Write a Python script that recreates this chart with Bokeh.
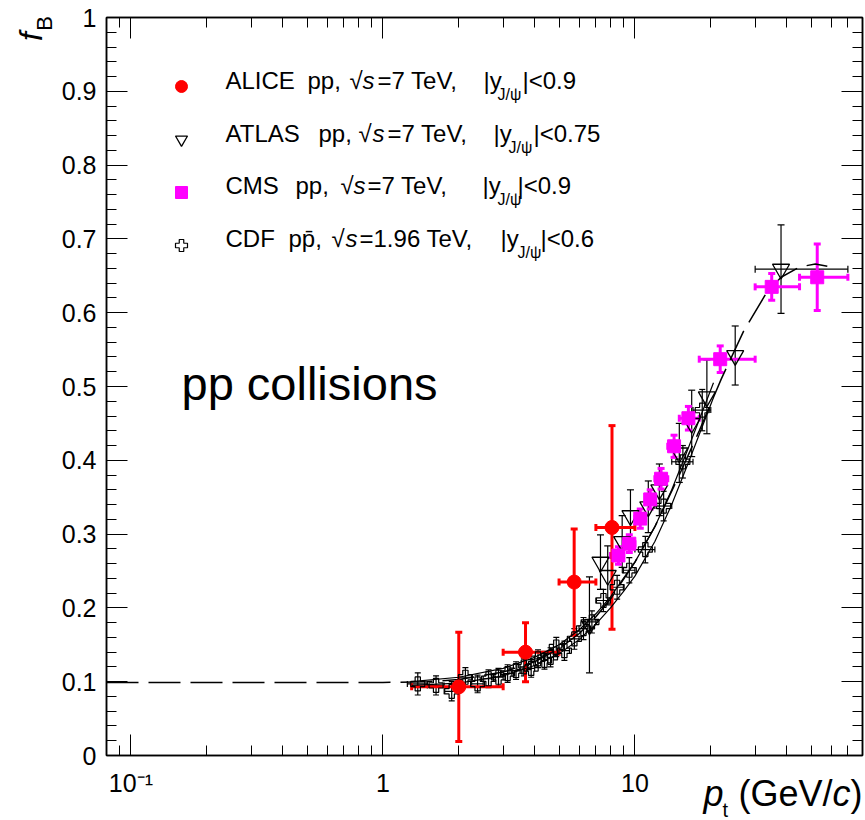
import numpy as np
from bokeh.plotting import figure
from bokeh.models import (ColumnDataSource, Whisker, TeeHead, FixedTicker, LogAxis, LinearAxis,
                          SingleIntervalTicker, CustomJSTickFormatter, Label, Legend, LegendItem, Range1d)
from bokeh.core.properties import value
from bokeh.embed import file_html
from bokeh.resources import INLINE

# ---------------- data ----------------
alice_pt = [2.0, 3.68, 5.74, 8.11]
alice_pt_lo = [1.3, 3.0, 5.0, 7.0]
alice_pt_hi = [3.0, 5.0, 7.0, 10.0]
alice_fb = [0.093, 0.140, 0.235, 0.309]
alice_err = [0.074, 0.040, 0.072, 0.138]

atlas_pt = [6.6, 7.3, 7.8, 8.9, 9.6, 11.3, 12.5, 15.0, 16.8, 19.3, 25.0, 38.0]
atlas_fb = [0.177, 0.262, 0.244, 0.290, 0.325, 0.337, 0.360, 0.410, 0.450, 0.486, 0.542, 0.659]
atlas_err = [0.065, 0.037, 0.040, 0.035, 0.035, 0.035, 0.035, 0.040, 0.045, 0.050, 0.040, 0.060]
atlas_xbar_lo = [30.0]
atlas_xbar_hi = [70.0]
atlas_xbar_fb = [0.659]

cms_pt = [8.6, 9.5, 10.5, 11.5, 12.7, 14.3, 16.3, 21.8, 34.9, 52.9]
cms_pt_lo = [8.0, 9.0, 10.0, 11.0, 12.0, 13.5, 15.0, 18.0, 30.0, 45.0]
cms_pt_hi = [9.0, 10.0, 11.0, 12.0, 13.5, 15.0, 18.0, 30.0, 45.0, 70.0]
cms_fb = [0.271, 0.287, 0.321, 0.347, 0.375, 0.419, 0.457, 0.537, 0.635, 0.648]
cms_err = [0.012, 0.012, 0.013, 0.013, 0.014, 0.015, 0.016, 0.018, 0.018, 0.045]

cdf_pt = [1.375, 1.625, 1.875, 2.125, 2.375, 2.625, 2.875, 3.125, 3.375, 3.625, 3.875,
          4.125, 4.375, 4.625, 4.875, 5.25, 5.75, 6.25, 6.75, 7.5, 8.5, 9.5, 11.0, 13.0, 15.5, 18.5]
cdf_pt_lo = [1.25, 1.5, 1.75, 2.0, 2.25, 2.5, 2.75, 3.0, 3.25, 3.5, 3.75,
             4.0, 4.25, 4.5, 4.75, 5.0, 5.5, 6.0, 6.5, 7.0, 8.0, 9.0, 10.0, 12.0, 14.0, 17.0]
cdf_pt_hi = [1.5, 1.75, 2.0, 2.25, 2.5, 2.75, 3.0, 3.25, 3.5, 3.75, 4.0,
             4.25, 4.5, 4.75, 5.0, 5.5, 6.0, 6.5, 7.0, 8.0, 9.0, 10.0, 12.0, 14.0, 17.0, 20.0]
cdf_fb = [0.097, 0.095, 0.087, 0.106, 0.097, 0.104, 0.106, 0.111, 0.115, 0.120, 0.118,
          0.131, 0.129, 0.133, 0.147, 0.142, 0.158, 0.172, 0.181, 0.210, 0.228, 0.251, 0.279, 0.338, 0.398, 0.468]
cdf_err = [0.015, 0.013, 0.013, 0.013, 0.012, 0.012, 0.012, 0.012, 0.012, 0.012, 0.012,
           0.012, 0.012, 0.013, 0.013, 0.013, 0.014, 0.015, 0.015, 0.015, 0.016, 0.017, 0.018, 0.020, 0.022, 0.028]

# long-dashed fit curve
fit_pt = [0.08, 0.5, 1.0, 1.5, 2.0, 3.0, 4.0, 5.0, 6.0, 7.0, 8.0, 10.0, 12.0, 15.0, 18.0,
          22.0, 27.0, 33.0, 38.0, 45.0, 52.0, 58.0]
fit_fb = [0.099, 0.099, 0.099, 0.100, 0.103, 0.113, 0.127, 0.145, 0.165, 0.188, 0.212, 0.262,
          0.310, 0.380, 0.440, 0.510, 0.575, 0.625, 0.648, 0.662, 0.666, 0.663]
# solid band curves
band_pt = [1.3, 2.0, 3.0, 4.0, 5.0, 6.0, 7.0, 8.0, 9.0, 10.0, 12.0, 14.0, 16.0, 18.0, 20.5]
band_hi = [0.100, 0.106, 0.118, 0.133, 0.150, 0.170, 0.192, 0.215, 0.240, 0.262, 0.310, 0.360, 0.410, 0.455, 0.505]
band_lo = [0.095, 0.098, 0.108, 0.122, 0.138, 0.157, 0.178, 0.200, 0.222, 0.243, 0.290, 0.340, 0.390, 0.435, 0.485]

x_major = [0.1, 1, 10]
x_minor = [0.08, 0.09, 0.2, 0.3, 0.4, 0.5, 0.6, 0.7, 0.8, 0.9,
           2, 3, 4, 5, 6, 7, 8, 9, 20, 30, 40, 50, 60, 70, 80]

legend_rows = [
    [("ALICE", 225, "normal"), ("pp,", 307, "normal"), ("\u221a", 349, "normal"), ("s", 362, "italic"),
     ("=7 TeV,", 377, "normal"), ("|y", 483, "normal"), ("J/\u03c8", 497, "sub"), ("|<0.9", 522, "normal")],
    [("ATLAS", 225, "normal"), ("pp,", 318, "normal"), ("\u221a", 358, "normal"), ("s", 372, "italic"),
     ("=7 TeV,", 387, "normal"), ("|y", 493, "normal"), ("J/\u03c8", 508, "sub"), ("|<0.75", 533, "normal")],
    [("CMS", 225, "normal"), ("pp,", 295, "normal"), ("\u221a", 340, "normal"), ("s", 353, "italic"),
     ("=7 TeV,", 367, "normal"), ("|y", 482, "normal"), ("J/\u03c8", 497, "sub"), ("|<0.9", 517, "normal")],
    [("CDF", 225, "normal"), ("pp\u0304,", 288, "normal"), ("\u221a", 331, "normal"), ("s", 345, "italic"),
     ("=1.96 TeV,", 359, "normal"), ("|y", 500, "normal"), ("J/\u03c8", 517, "sub"), ("|<0.6", 540, "normal")],
]
legend_baselines = [88, 141, 193, 246]

FONT = "Liberation Sans"
MID = 0.35  # distance from alphabetic baseline up to the text middle, in em
W, H = 865, 820
FL, FT, FR, FB = 106, 17, 862, 755  # frame edges in canvas pixels

p = figure(width=W, height=H, x_axis_type="log", x_range=Range1d(0.08, 80), y_range=Range1d(0, 1),
           output_backend="svg", toolbar_location=None,
           min_border_left=FL, min_border_right=W - FR, min_border_top=FT, min_border_bottom=H - FB)
p.xgrid.visible = False
p.ygrid.visible = False
p.outline_line_color = "black"
p.outline_line_width = 1.5
p.background_fill_color = "white"
p.border_fill_color = "white"


def style_axis(ax, labels=True):
    ax.major_tick_in = 21
    ax.major_tick_out = 0
    ax.minor_tick_in = 10
    ax.minor_tick_out = 0
    ax.major_tick_line_color = "black"
    ax.minor_tick_line_color = "black"
    ax.major_tick_line_width = 1
    ax.minor_tick_line_width = 1
    ax.axis_line_color = "black"
    ax.axis_line_width = 1.5
    ax.major_label_text_font = FONT
    ax.major_label_text_font_size = "25px"
    ax.major_label_text_color = "black"
    if not labels:
        ax.formatter = CustomJSTickFormatter(code="return '';")
        ax.major_label_standoff = 0


p.xaxis.ticker = FixedTicker(ticks=x_major, minor_ticks=x_minor)
p.xaxis.formatter = CustomJSTickFormatter(code="if (tick < 0.5) { return '10\u207b\u00b9'; } return tick.toFixed(0);")
style_axis(p.xaxis[0])
p.xaxis.major_label_standoff = 13

p.yaxis.ticker = SingleIntervalTicker(interval=0.1, num_minor_ticks=5)
p.yaxis.formatter = CustomJSTickFormatter(code="return tick.toFixed(1).replace(/\\.0$/, '');")
style_axis(p.yaxis[0])
p.yaxis.major_label_standoff = 10

top = LogAxis(ticker=FixedTicker(ticks=x_major, minor_ticks=x_minor))
style_axis(top, labels=False)
p.add_layout(top, "above")
right = LinearAxis(ticker=SingleIntervalTicker(interval=0.1, num_minor_ticks=5))
style_axis(right, labels=False)
p.add_layout(right, "right")

# ---- curves ----
p.line(fit_pt, fit_fb, line_color="black", line_width=1.5, line_dash="32 10")
p.line(band_pt, band_hi, line_color="black", line_width=1.2)
p.line(band_pt, band_lo, line_color="black", line_width=1.2)


def yerr(xs, ys, es, color, width, cap):
    src = ColumnDataSource(dict(x=xs, lo=[y - e for y, e in zip(ys, es)], hi=[y + e for y, e in zip(ys, es)]))
    p.add_layout(Whisker(source=src, base="x", lower="lo", upper="hi", dimension="height",
                         line_color=color, line_width=width,
                         lower_head=TeeHead(size=cap, line_color=color, line_width=width),
                         upper_head=TeeHead(size=cap, line_color=color, line_width=width)))


def xerr(ys, los, his, color, width, cap):
    src = ColumnDataSource(dict(y=ys, lo=los, hi=his))
    p.add_layout(Whisker(source=src, base="y", lower="lo", upper="hi", dimension="width",
                         line_color=color, line_width=width,
                         lower_head=TeeHead(size=cap, line_color=color, line_width=width),
                         upper_head=TeeHead(size=cap, line_color=color, line_width=width)))


yerr(cdf_pt, cdf_fb, cdf_err, "black", 1.2, 6)
xerr(cdf_fb, cdf_pt_lo, cdf_pt_hi, "black", 1.2, 6)
yerr(atlas_pt, atlas_fb, atlas_err, "black", 1.2, 7)
xerr(atlas_xbar_fb, atlas_xbar_lo, atlas_xbar_hi, "black", 1.2, 7)
yerr(cms_pt, cms_fb, cms_err, "#ff00ff", 3, 7)
xerr(cms_fb, cms_pt_lo, cms_pt_hi, "#ff00ff", 3, 7)
yerr(alice_pt, alice_fb, alice_err, "#ff0000", 3, 7)
xerr(alice_fb, alice_pt_lo, alice_pt_hi, "#ff0000", 3, 7)

r_cdf = p.scatter(cdf_pt, cdf_fb, marker="plus", size=14, fill_color=None, line_color="black", line_width=1.2)
r_atlas = p.scatter(atlas_pt, atlas_fb, marker="inverted_triangle", size=17, fill_color=None,
                    line_color="black", line_width=1.3)
r_cms = p.scatter(cms_pt, cms_fb, marker="square", size=13, fill_color="#ff00ff", line_color="#ff00ff")
r_alice = p.scatter(alice_pt, alice_fb, marker="circle", size=14, fill_color="#ff0000", line_color="#ff0000")

# legend keys (texts are written separately so that sub-scripts can be placed)
GLYPH, SPACING, LEG_TOP = 30, 23, 71
legend_h = 4 * GLYPH + 3 * SPACING
legend = Legend(items=[LegendItem(label=" ", renderers=[r]) for r in (r_alice, r_atlas, r_cms, r_cdf)],
                location=(166 - FL, FB - (LEG_TOP + legend_h)),
                glyph_width=GLYPH, glyph_height=GLYPH, label_height=GLYPH, spacing=SPACING,
                padding=0, margin=0, border_line_color=None, background_fill_alpha=0,
                label_standoff=0, label_text_font_size="2px")
p.add_layout(legend)


def add_label(text, cx, base, size, style="normal"):
    # text inside the frame, frame pixel units; base = alphabetic baseline in canvas pixels
    p.add_layout(Label(x=cx - FL, y=FB - (base - MID * size), x_units="screen", y_units="screen", text=text,
                       text_font=FONT, text_font_size=f"{size}px", text_font_style=style,
                       text_align="left", text_baseline="middle", text_color="black"))


for row, base in zip(legend_rows, legend_baselines):
    for txt, x0, st in row:
        if st == "sub":
            add_label(txt, x0, base + 12, 16)
        else:
            add_label(txt, x0, base, 24, st)

add_label("pp collisions", 181, 399, 47)


def outer_text(text, ax, ay, dx, dy, size, style="normal", angle=0.0, align="left"):
    # text outside the frame: anchored at a frame corner, shifted in pixels, drawn at overlay level
    src = ColumnDataSource(dict(x=[ax], y=[ay], t=[text], a=[float(angle)]))
    p.text(x="x", y="y", text="t", angle="a", angle_units="rad", source=src, x_offset=dx, y_offset=dy,
           text_font=value(FONT), text_font_size=f"{size}px", text_font_style=style,
           text_align=align, text_baseline="middle", text_color="black", level="overlay")


# x axis title (anchored at the bottom-right corner of the frame)
XB = 806
outer_text("p", 80, 0, 703 - FR, XB - MID * 36 - FB, 36, "italic")
outer_text("t", 80, 0, 722 - FR, XB + 10 - MID * 20 - FB, 20)
outer_text("(GeV/", 80, 0, 738 - FR, XB - MID * 36 - FB, 36)
outer_text("c", 80, 0, 832 - FR, XB - MID * 36 - FB, 36, "italic")
outer_text(")", 80, 0, 850 - FR, XB - MID * 36 - FB, 36)

# y axis title (anchored at the top-left corner of the frame, rotated, centred pieces)
outer_text("f", 0.08, 1, 30 - FL, 36 - FT, 32, "italic", np.pi / 2, "center")
outer_text("B", 0.08, 1, 44 - FL, 23 - FT, 22, "normal", np.pi / 2, "center")

open("out.html", "w").write(file_html(p, INLINE))
